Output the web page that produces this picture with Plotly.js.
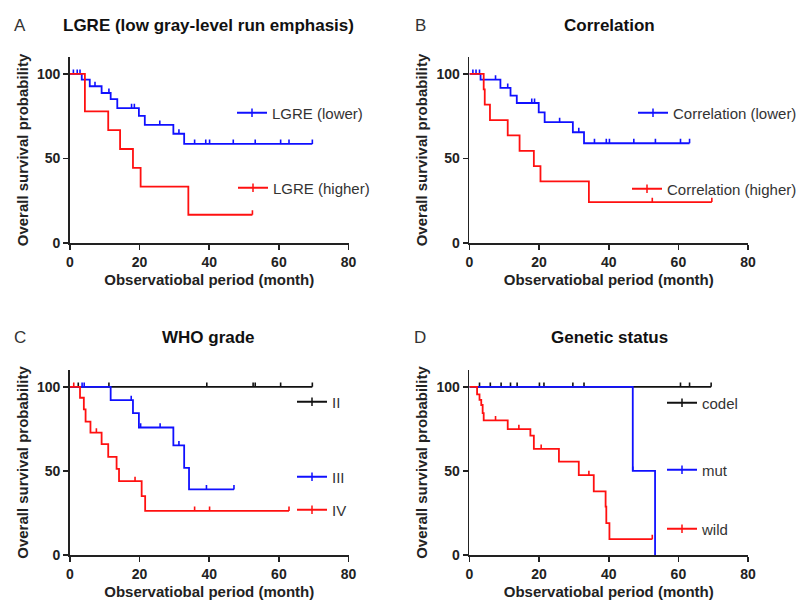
<!DOCTYPE html>
<html>
<head>
<meta charset="utf-8">
<script src="https://cdn.plot.ly/plotly-3.0.1.min.js"></script>
<style>html,body{margin:0;padding:0;background:#fff}#chart{width:802px;height:601px}</style>
</head>
<body>
<div id="chart"></div>
<script>
// ---------- DATA (months, survival %) ----------
// Panel A: LGRE
const aLowerEventT = [3.4, 5.7, 9.1, 11.7, 13.6, 19.8, 21.5, 29.7, 32.8];
const aLowerEventS = [96.6, 92.7, 88.7, 85.1, 79.8, 75.2, 69.9, 64.6, 58.6];
const aLowerCensT  = [1.0, 2.1, 2.9, 7.2, 11.2, 17.7, 18.5, 25.8, 31.3, 35.8, 39.0, 40.1, 46.9, 53.2, 60.5, 62.9, 69.6];
const aHigherEventT = [4.3, 11.0, 14.4, 18.1, 20.3, 34.0];
const aHigherEventS = [77.8, 66.7, 55.6, 44.4, 33.3, 16.7];
const aHigherCensT  = [52.4];
// Panel B: Correlation
const bLowerEventT = [3.2, 8.9, 11.8, 13.6, 19.9, 21.6, 29.7, 32.9];
const bLowerEventS = [96.6, 91.7, 87.1, 82.8, 77.2, 71.5, 65.5, 59.0];
const bLowerCensT  = [1.0, 1.9, 2.9, 7.5, 11.0, 17.9, 18.7, 25.9, 31.4, 35.9, 39.3, 40.2, 47.2, 53.4, 60.6, 63.2];
const bHigherEventT = [4.1, 4.4, 5.9, 11.0, 14.4, 18.5, 20.4, 34.3];
const bHigherEventS = [90.9, 81.8, 72.7, 63.6, 54.5, 45.5, 36.4, 24.2];
const bHigherCensT  = [52.5, 69.6];
// Panel C: WHO grade
const cIIEventT = [];
const cIIEventS = [];
const cIICensT  = [2.4, 11.2, 39.3, 52.6, 53.2, 60.5, 69.6];
const cIIIEventT = [11.7, 18.1, 19.8, 29.7, 32.8, 34.2];
const cIIIEventS = [92.1, 84.3, 75.8, 65.2, 51.8, 39.0];
const cIIICensT  = [3.5, 4.1, 17.6, 20.3, 25.9, 31.3, 39.2, 47.1];
const cIVEventT = [2.9, 4.0, 4.5, 5.9, 9.1, 11.0, 13.4, 14.1, 20.6, 21.6];
const cIVEventS = [93.5, 86.6, 79.3, 72.8, 65.9, 58.3, 51.2, 43.9, 35.0, 26.2];
const cIVCensT  = [1.1, 7.6, 18.7, 35.8, 40.1, 62.9];
// Panel D: Genetic status
const dCodelEventT = [];
const dCodelEventS = [];
const dCodelCensT  = [2.9, 6.0, 9.1, 11.8, 13.7, 20.1, 21.4, 29.7, 32.9, 60.6, 63.2, 69.4];
const dMutEventT = [46.9, 53.3];
const dMutEventS = [50.0, 0.0];
const dMutCensT  = [46.9];
const dWildEventT = [2.2, 2.9, 3.4, 3.8, 4.1, 11.0, 17.5, 18.5, 25.7, 31.4, 35.7, 39.1, 39.3, 40.2];
const dWildEventS = [95.5, 92.2, 89.2, 84.3, 80.0, 74.9, 71.0, 63.1, 55.5, 47.5, 37.8, 28.8, 19.0, 9.4];
const dWildCensT  = [7.5, 14.2, 20.6, 34.3, 52.5];

// Labels
const panelLetters = ['A', 'B', 'C', 'D'];
const panelTitles = ['LGRE (low gray-level run emphasis)', 'Correlation', 'WHO grade', 'Genetic status'];
const xTitle = 'Observatiobal period (month)';
const yTitle = 'Overall survival probability';
const xTicks = [0, 20, 40, 60, 80];
const yTicks = [0, 50, 100];

// ---------- BUILD ----------
const W = 802, H = 601;
const FONT = 'Liberation Sans, Arial, Helvetica, sans-serif';
const BLUE = '#1010ff', RED = '#ff1010', BLACK = '#111111';
const TICK_UP = 2.6;

function kmTrace(evT, evS, censT, color, idx, name, legendId) {
  const pts = [{x: 0, y: 100, c: false}];
  evT.forEach((t, i) => pts.push({x: t, y: evS[i], c: false}));
  function survAt(t) {
    let s = 100;
    evT.forEach((e, i) => { if (e <= t) s = evS[i]; });
    return s;
  }
  censT.forEach(t => pts.push({x: t, y: survAt(t), c: true}));
  pts.sort((a, b) => a.x - b.x || (a.c - b.c));
  const ax = idx === 1 ? '' : String(idx);
  return {
    type: 'scatter', mode: 'lines+markers', name: name,
    x: pts.map(p => p.x), y: pts.map(p => p.y),
    xaxis: 'x' + ax, yaxis: 'y' + ax,
    line: {color: color, width: 1.8, shape: 'hv'},
    marker: {symbol: 'line-ns-open', size: 6, color: color, line: {color: color, width: 1.5}},
    selectedpoints: [], unselected: {marker: {opacity: 0}},
    error_y: {type: 'data', symmetric: false, array: pts.map(p => p.c ? TICK_UP : 0),
              arrayminus: pts.map(() => 0), width: 0, thickness: 1.6, color: color},
    legend: legendId, showlegend: true, hoverinfo: 'skip', cliponaxis: false
  };
}

const data = [
  kmTrace(aLowerEventT, aLowerEventS, aLowerCensT, BLUE, 1, 'LGRE (lower)', 'legend'),
  kmTrace(aHigherEventT, aHigherEventS, aHigherCensT, RED, 1, 'LGRE (higher)', 'legend2'),
  kmTrace(bLowerEventT, bLowerEventS, bLowerCensT, BLUE, 2, 'Correlation (lower)', 'legend3'),
  kmTrace(bHigherEventT, bHigherEventS, bHigherCensT, RED, 2, 'Correlation (higher)', 'legend4'),
  kmTrace(cIIEventT, cIIEventS, cIICensT, BLACK, 3, 'II', 'legend5'),
  kmTrace(cIIIEventT, cIIIEventS, cIIICensT, BLUE, 3, 'III', 'legend6'),
  kmTrace(cIVEventT, cIVEventS, cIVCensT, RED, 3, 'IV', 'legend7'),
  kmTrace(dCodelEventT, dCodelEventS, dCodelCensT, BLACK, 4, 'codel', 'legend8'),
  kmTrace(dMutEventT, dMutEventS, dMutCensT, BLUE, 4, 'mut', 'legend9'),
  kmTrace(dWildEventT, dWildEventS, dWildCensT, RED, 4, 'wild', 'legend10')
];

const px = v => v / W, py = v => 1 - v / H;
// plot boxes in pixels: [left, right, top, bottom]
const boxes = [[70, 349, 57, 243], [470, 749, 57, 243], [70, 349, 370, 555], [470, 749, 370, 555]];

const layout = {
  width: W, height: H, margin: {l: 0, r: 0, t: 0, b: 0},
  paper_bgcolor: '#fff', plot_bgcolor: '#fff',
  font: {family: FONT, color: '#222'},
  hovermode: false, dragmode: false,
  annotations: [], 
};

boxes.forEach((b, i) => {
  const ax = i === 0 ? '' : String(i + 1);
  layout['xaxis' + ax] = {
    domain: [px(b[0]), px(b[1])], anchor: 'y' + ax, range: [0, 80],
    tickvals: xTicks, ticks: 'outside', ticklen: 5, tickwidth: 1.6, tickcolor: '#222',
    showline: true, linecolor: '#222', linewidth: 1.8, showgrid: false, zeroline: false,
    tickfont: {family: FONT, size: 14, weight: 'bold', color: '#222'},
    title: {text: xTitle, font: {family: FONT, size: 15, weight: 'bold', color: '#222'}, standoff: 6},
    fixedrange: true
  };
  layout['yaxis' + ax] = {
    domain: [py(b[3]), py(b[2])], anchor: 'x' + ax, range: [0, 110],
    tickvals: yTicks, ticks: 'outside', ticklen: 5, tickwidth: 1.6, tickcolor: '#222',
    showline: true, linecolor: '#222', linewidth: 1.8, showgrid: false, zeroline: false,
    tickfont: {family: FONT, size: 14, weight: 'bold', color: '#222'},
    title: {text: yTitle, font: {family: FONT, size: 15, weight: 'bold', color: '#222'}, standoff: 5},
    fixedrange: true
  };
  const titleY = i < 2 ? 26 : 338;
  const letterX = i % 2 === 0 ? 20 : 421;
  const titleX = i % 2 === 0 ? 209 : 610;
  layout.annotations.push({
    text: panelLetters[i], xref: 'paper', yref: 'paper', x: px(letterX), y: py(titleY),
    xanchor: 'center', yanchor: 'middle', showarrow: false,
    font: {family: FONT, size: 17, color: '#333'}
  });
  layout.annotations.push({
    text: panelTitles[i], xref: 'paper', yref: 'paper', x: px(titleX), y: py(titleY),
    xanchor: 'center', yanchor: 'middle', showarrow: false,
    font: {family: FONT, size: 17, weight: 'bold', color: '#111'}
  });
});

// legend text start x and centre y in pixels
const legendPos = [[272, 113], [273, 188], [673, 113], [668, 189], [332, 402], [332, 477], [332, 510], [702, 403], [702, 470], [702, 529]];
legendPos.forEach((p, i) => {
  const key = i === 0 ? 'legend' : 'legend' + (i + 1);
  layout[key] = {
    x: px(p[0] - 40), y: py(p[1]), xanchor: 'left', yanchor: 'middle',
    bgcolor: 'rgba(0,0,0,0)', borderwidth: 0, itemwidth: 30,
    font: {family: FONT, size: 15, color: '#333'}, itemclick: false, itemdoubleclick: false
  };
});

Plotly.newPlot('chart', data, layout, {staticPlot: true, displayModeBar: false});
</script>
</body>
</html>
